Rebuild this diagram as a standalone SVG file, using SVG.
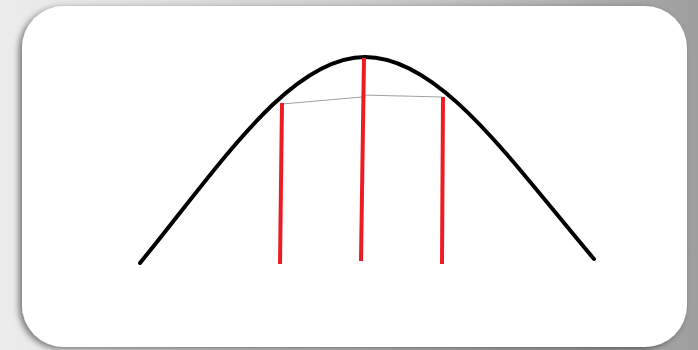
<svg xmlns="http://www.w3.org/2000/svg" width="698" height="350" viewBox="0 0 698 350">
<defs>
<linearGradient id="bg" x1="0" y1="0" x2="1" y2="0">
<stop offset="0" stop-color="#ececec"/>
<stop offset="0.5" stop-color="#cfcfcf"/>
<stop offset="1" stop-color="#9e9e9e"/>
</linearGradient>
<filter id="sh" x="-10%" y="-10%" width="120%" height="120%">
<feGaussianBlur in="SourceAlpha" stdDeviation="3"/>
<feOffset dx="-3" dy="2"/>
<feComponentTransfer><feFuncA type="linear" slope="0.5"/></feComponentTransfer>
<feMerge><feMergeNode/><feMergeNode in="SourceGraphic"/></feMerge>
</filter>
<style>
.curve{fill:none;stroke:#000;stroke-width:4;stroke-linecap:round}
.red{stroke:#ed1c24;stroke-width:4;stroke-linecap:butt}
.thin{stroke:#a0a0a0;stroke-width:1.2;fill:none}
</style>
</defs>
<rect width="698" height="350" fill="url(#bg)"/>
<rect x="22" y="6" width="665" height="341" rx="42" ry="42" fill="#fff" filter="url(#sh)"/>
<g id="connectors">
<path class="thin" d="M282,104 L362,97 M362,95 L442,97"/>
</g>
<g id="curve">
<path class="curve" d="M140,263 C220,165 290,57 365,57 C440,57 510,160 594,259"/>
</g>
<g id="lines">
<line class="red" x1="282" y1="103" x2="280" y2="264"/>
<line class="red" x1="364" y1="58" x2="361" y2="261"/>
<line class="red" x1="443" y1="97" x2="442" y2="264"/>
</g>
</svg>
